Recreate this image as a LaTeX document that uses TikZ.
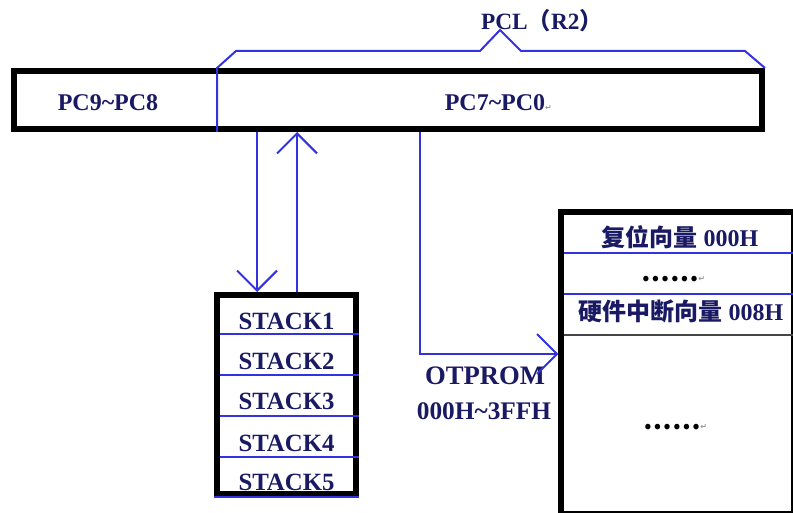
\documentclass[tikz,border=0pt]{standalone}
\usepackage{fontspec}
\setmainfont{Liberation Serif}
\newfontfamily\cjk{Noto Sans CJK SC}
\newfontfamily\symfont{DejaVu Sans}
\usepackage{xcolor}
\usepackage{tikz}
\usetikzlibrary{arrows.meta, calc}
\definecolor{lineblue}{RGB}{50, 50, 225}
\definecolor{textnavy}{RGB}{25, 25, 100}
\definecolor{markgray}{RGB}{150, 150, 150}
\definecolor{rowgray}{RGB}{70, 70, 70}
\newcommand{\retmark}{\rlap{\smash{\textcolor{markgray}{\symfont\fontsize{6}{6}\selectfont ↵}}}}

\begin{document}
\begin{tikzpicture}[
    x=0.75pt, y=-0.75pt,
    box/.style={rectangle, draw=black, line width=4.5pt, inner sep=0pt, outer sep=2.25pt},
    bluewire/.style={draw=lineblue, line width=1.5pt},
    conn/.style={-{Straight Barb[length=15pt, width=30pt]}, draw=lineblue, line width=1.5pt},
    navytext/.style={text=textnavy, font=\fontsize{18}{20}\selectfont\bfseries, inner sep=0pt, anchor=base},
    dotrow/.style={text=black, font=\cjk\fontsize{19}{20}\selectfont\bfseries, inner sep=0pt}
]
    \useasboundingbox (0,0) rectangle (793,513);
    \clip (0,0) rectangle (793,513);

    % Program counter
    \node[box, minimum width=561pt, minimum height=43.5pt] (reg) at (388,100) {};
    \node[navytext] (pchigh) at (108,111) {PC9\textasciitilde PC8};
    \node[navytext] (pclow) at (495,111) {PC7\textasciitilde PC0\retmark};

    % PCL brace
    \coordinate (split) at (217,100);
    \draw[bluewire] (split |- reg.south) -- (split |- reg.north) -- (236,51) -- (480,51)
        -- (500,30) -- (521,51) -- (745,51) -- (reg.north east);
    \node[navytext, font=\fontsize{17.5}{20}\selectfont\bfseries] (pcl) at (542,30) {PCL{\cjk （}R2{\cjk ）}};

    % Stack
    \node[box, minimum width=104.25pt, minimum height=149.25pt] (stack) at (286.5,394.5) {};
    \draw[bluewire] (220,334) -- (stack.east |- 0,334);
    \draw[bluewire] (220,375) -- (stack.east |- 0,375);
    \draw[bluewire] (220,416) -- (stack.east |- 0,416);
    \draw[bluewire] (220,457) -- (stack.east |- 0,457);
    \draw[bluewire] (stack.south west) -- (stack.south east);
    \node[navytext, font=\fontsize{18.6}{20}\selectfont\bfseries] (s1) at (286.5,330) {STACK1};
    \node[navytext, font=\fontsize{18.6}{20}\selectfont\bfseries] (s2) at (286.5,370) {STACK2};
    \node[navytext, font=\fontsize{18.6}{20}\selectfont\bfseries] (s3) at (286.5,410) {STACK3};
    \node[navytext, font=\fontsize{18.6}{20}\selectfont\bfseries] (s4) at (286.5,451) {STACK4};
    \node[navytext, font=\fontsize{18.6}{20}\selectfont\bfseries] (s5) at (286.5,490) {STACK5};

    % OTPROM
    \node[box, minimum width=174.4pt, minimum height=226.5pt] (rom) at (677.75,363) {};
    \node[navytext] (reset) at (680,247) {{\cjk 复位向量} 000H};
    \draw[bluewire] (564,253) -- (rom.east |- 0,253);
    \node[dotrow] (gap1) at (670,279) {……\retmark};
    \draw[bluewire] (564,294) -- (rom.east |- 0,294);
    \node[navytext] (irq) at (681,321) {{\cjk 硬件中断向量} 008H};
    \draw[draw=rowgray, line width=1.5pt] (564,335) -- (rom.east |- 0,335);
    \node[dotrow] (gap2) at (672,427) {……\retmark};
    \node[navytext, font=\fontsize{20}{22}\selectfont\bfseries] (romname) at (485,385) {OTPROM};
    \node[navytext, font=\fontsize{19}{22}\selectfont\bfseries] (romrange) at (484,420) {000H\textasciitilde 3FFH};

    % Connections
    \coordinate (push) at (257,200);
    \coordinate (pop) at (297,200);
    \coordinate (fetch) at (420,354);
    \draw[conn] (push |- reg.south) -- (push |- stack.north);
    \draw[conn] (pop |- stack.north) -- (pop |- reg.south);
    \draw[conn] (fetch |- reg.south) -- (fetch) -- (fetch -| rom.west);

\end{tikzpicture}
\end{document}
